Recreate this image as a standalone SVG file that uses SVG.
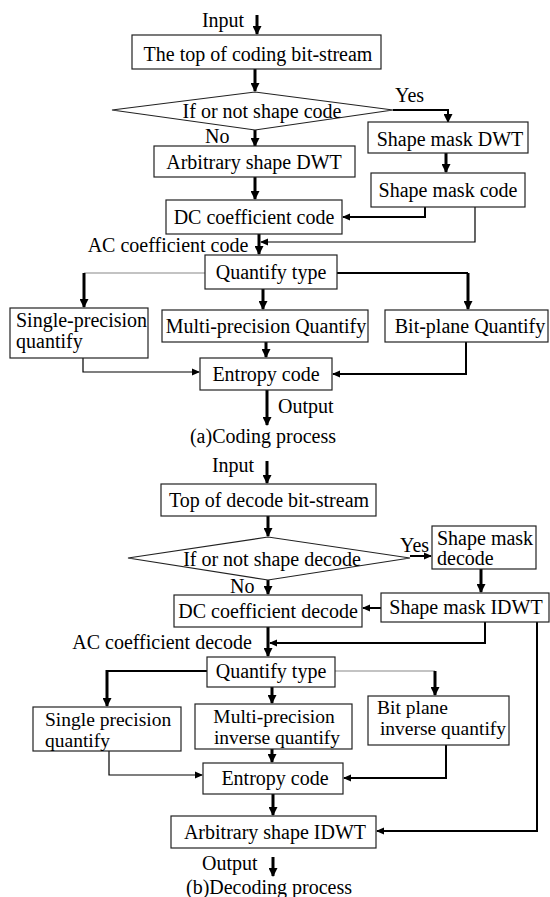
<svg xmlns="http://www.w3.org/2000/svg" width="550" height="897" viewBox="0 0 550 897">
<style>
text{font-family:"Liberation Serif","Times New Roman","DejaVu Serif",serif;font-size:20px;fill:#000}
.c{text-anchor:middle}
.s{font-size:19.5px}
.box{fill:#fff;stroke:#222;stroke-width:1.2}
.k{fill:none;stroke:#000;stroke-width:3}
.m{fill:none;stroke:#000;stroke-width:2}
.t{fill:none;stroke:#000;stroke-width:1.2}
.g{fill:none;stroke:#888;stroke-width:1.2}
</style>
<defs>
<marker id="ah" markerUnits="userSpaceOnUse" markerWidth="9" markerHeight="9" refX="8" refY="4.5" orient="auto"><path d="M0,0 L9,4.5 L0,9 z" fill="#000"/></marker>
<marker id="as" markerUnits="userSpaceOnUse" markerWidth="8" markerHeight="8" refX="7" refY="4" orient="auto"><path d="M0,0.5 L8,4 L0,7.5 z" fill="#000"/></marker>
</defs>

<g id="connectors">
<!-- coding -->
<path class="k" d="M257,15 V34" marker-end="url(#ah)"/>
<path class="k" d="M255,69 V91" marker-end="url(#ah)"/>
<path class="m" d="M393,110 H448 V122" marker-end="url(#ah)"/>
<path class="k" d="M255,130 V146" marker-end="url(#ah)"/>
<path class="k" d="M446,153 V172" marker-end="url(#ah)"/>
<path class="k" d="M255,177 V199" marker-end="url(#ah)"/>
<path class="m" d="M425,207 V217 H343" marker-end="url(#as)"/>
<path class="t" d="M475,207 V242 H261" marker-end="url(#as)"/>
<path class="k" d="M259,234 V254" marker-end="url(#ah)"/>
<path class="g" d="M205,273 H84"/>
<path class="k" d="M84,273 V307" marker-end="url(#ah)"/>
<path class="k" d="M263,289 V309" marker-end="url(#ah)"/>
<path class="m" d="M337,273 H468"/>
<path class="k" d="M468,273 V309" marker-end="url(#ah)"/>
<path class="k" d="M266,342 V357" marker-end="url(#ah)"/>
<path class="t" d="M83,358 V372 H199" marker-end="url(#as)"/>
<path class="m" d="M466,342 V374 H333" marker-end="url(#as)"/>
<path class="k" d="M267,390 V425" marker-end="url(#ah)"/>
<!-- decoding -->
<path class="k" d="M267,461 V483" marker-end="url(#ah)"/>
<path class="k" d="M268,516 V536" marker-end="url(#ah)"/>
<path class="m" d="M410,556 H431" marker-end="url(#as)"/>
<path class="k" d="M268,580 V594" marker-end="url(#ah)"/>
<path class="k" d="M481,569 V592" marker-end="url(#ah)"/>
<path class="m" d="M381,608 H363" marker-end="url(#as)"/>
<path class="m" d="M485,622 V643 H270" marker-end="url(#as)"/>
<path class="k" d="M268,627 V656" marker-end="url(#ah)"/>
<path class="m" d="M207,671 H107"/>
<path class="k" d="M107,670 V706" marker-end="url(#ah)"/>
<path class="k" d="M272,687 V703" marker-end="url(#ah)"/>
<path class="g" d="M335,671 H435"/>
<path class="k" d="M435,671 V695" marker-end="url(#ah)"/>
<path class="k" d="M272,749 V762" marker-end="url(#ah)"/>
<path class="t" d="M109,751 V775 H202" marker-end="url(#as)"/>
<path class="m" d="M446,745 V778 H344" marker-end="url(#as)"/>
<path class="k" d="M273,794 V815" marker-end="url(#ah)"/>
<path class="m" d="M537,622 V831 H377" marker-end="url(#as)"/>
<path class="k" d="M273,857 V876" marker-end="url(#ah)"/>
</g>

<!-- coding process -->
<text x="223" y="27" class="c">Input</text>
<g id="a-top"><rect class="box" x="132" y="35" width="249" height="34"/><text x="258" y="61" class="c">The top of coding bit-stream</text></g>
<g id="a-dec"><polygon class="box" points="112,110 255,92 393,110 255,130"/><text x="262" y="118" class="c">If or not shape code</text></g>
<text x="395" y="102">Yes</text>
<text x="205" y="143">No</text>
<g id="a-smdwt"><rect class="box" x="368" y="122" width="160" height="31"/><text x="450" y="146" class="c">Shape mask DWT</text></g>
<g id="a-asdwt"><rect class="box" x="154" y="146" width="201" height="31"/><text x="254" y="169" class="c">Arbitrary shape DWT</text></g>
<g id="a-smcode"><rect class="box" x="371" y="173" width="154" height="34"/><text x="448" y="197" class="c">Shape mask code</text></g>
<g id="a-dc"><rect class="box" x="166" y="200" width="176" height="34"/><text x="254" y="224" class="c">DC coefficient code</text></g>
<text x="168" y="252" class="c">AC coefficient code</text>
<g id="a-qt"><rect class="box" x="205" y="255" width="132" height="34"/><text x="271" y="279" class="c">Quantify type</text></g>
<g id="a-single"><rect class="box" x="10" y="308" width="138" height="50"/><text x="16" y="327">Single-precision</text><text x="16" y="348">quantify</text></g>
<g id="a-multi"><rect class="box" x="162" y="310" width="206" height="32"/><text x="266" y="333" class="c">Multi-precision Quantify</text></g>
<g id="a-bit"><rect class="box" x="385" y="310" width="163" height="32"/><text x="470" y="333" class="c">Bit-plane Quantify</text></g>
<g id="a-ent"><rect class="box" x="200" y="358" width="132" height="32"/><text x="266" y="381" class="c">Entropy code</text></g>
<text x="278" y="413">Output</text>
<text x="263" y="443" class="c">(a)Coding process</text>

<!-- decoding process -->
<text x="233" y="472" class="c">Input</text>
<g id="b-top"><rect class="box" x="161" y="484" width="215" height="32"/><text x="269" y="507" class="c">Top of decode bit-stream</text></g>
<g id="b-dec"><polygon class="box" points="128,558 268,537 410,558 268,580"/><text x="272" y="566" class="c">If or not shape decode</text></g>
<text x="400" y="552">Yes</text>
<text x="230" y="593">No</text>
<g id="b-smdec"><rect class="box" x="432" y="526" width="104" height="43"/><text x="437" y="545">Shape mask</text><text x="437" y="565">decode</text></g>
<g id="b-smidwt"><rect class="box" x="381" y="593" width="168" height="29"/><text x="466" y="614" class="c">Shape mask IDWT</text></g>
<g id="b-dc"><rect class="box" x="174" y="595" width="188" height="32"/><text x="268" y="618" class="c">DC coefficient decode</text></g>
<text x="162" y="649" class="c">AC coefficient decode</text>
<g id="b-qt"><rect class="box" x="207" y="657" width="128" height="30"/><text x="271" y="678" class="c">Quantify type</text></g>
<g id="b-single"><rect class="box" x="33" y="707" width="148" height="44"/><text class="s" x="45" y="726">Single precision</text><text class="s" x="45" y="747">quantify</text></g>
<g id="b-multi"><rect class="box" x="195" y="704" width="157" height="45"/><text class="s c" x="274" y="723">Multi-precision</text><text class="s c" x="277" y="744">inverse quantify</text></g>
<g id="b-bit"><rect class="box" x="368" y="696" width="141" height="49"/><text class="s" x="377" y="714">Bit plane</text><text class="s c" x="443" y="735">inverse quantify</text></g>
<g id="b-ent"><rect class="box" x="203" y="763" width="140" height="31"/><text x="275" y="785" class="c">Entropy code</text></g>
<g id="b-asidwt"><rect class="box" x="171" y="816" width="205" height="32"/><text x="275" y="839" class="c">Arbitrary shape IDWT</text></g>
<text x="202" y="870">Output</text>
<text x="269" y="894" class="c">(b)Decoding process</text>
</svg>
